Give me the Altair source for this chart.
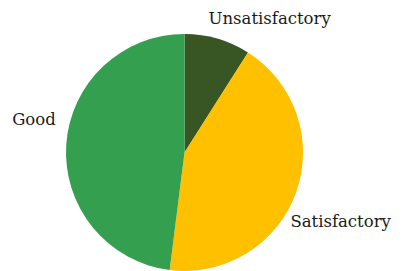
import altair as alt
import pandas as pd

categories = ["Unsatisfactory", "Satisfactory", "Good"]
values = [9, 43, 48]
colors = ["#375623", "#FFC000", "#339F4F"]
order = [0, 1, 2]

df = pd.DataFrame({"category": categories, "value": values, "order": order})

CX, CY, R = 176.5, 144.5, 118.5

base = alt.Chart(df).encode(
    theta=alt.Theta("value:Q", stack=True),
    order=alt.Order("order:Q"),
    x=alt.value(CX),
    y=alt.value(CY),
)

pie = base.mark_arc(radius=R, stroke=None).encode(
    color=alt.Color("category:N", scale=alt.Scale(domain=categories, range=colors), legend=None)
)

font = "DejaVu Serif"
fs = 16.5

def label(cat, radius, align, dx, dy):
    return base.mark_text(radius=radius, align=align, baseline="middle",
                          font=font, fontSize=fs, color="#1a1a1a", dx=dx, dy=dy).encode(
        text="category:N",
        opacity=alt.condition(alt.datum.category == cat, alt.value(1), alt.value(0)),
    )

chart = alt.layer(
    pie,
    label("Unsatisfactory", 140, "left", -15, 1),
    label("Satisfactory", 120, "left", -7, 29),
    label("Good", 130, "right", 1, -24),
).properties(
    width=387, height=263, autosize="none", padding=0
).configure_view(stroke=None)

chart.save("out.html", embed_options={"renderer": "svg", "actions": False})
